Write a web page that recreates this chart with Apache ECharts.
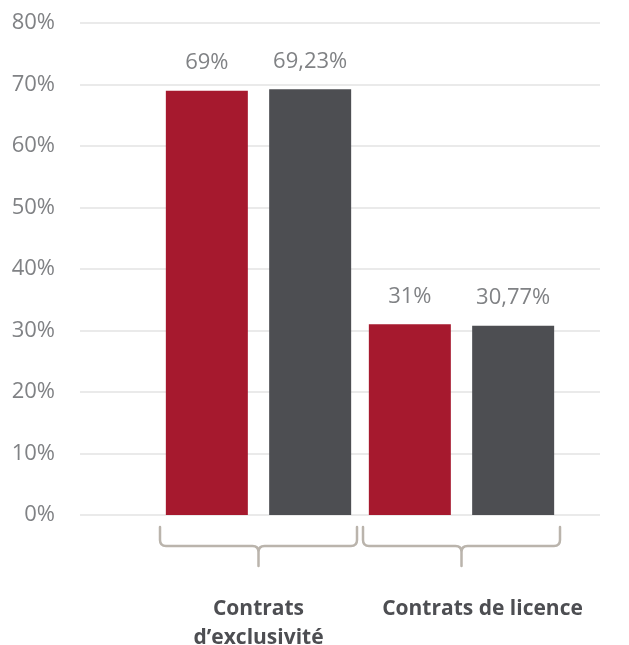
<!DOCTYPE html>
<html>
<head>
<meta charset="utf-8">
<script src="https://cdn.jsdelivr.net/npm/echarts@6/dist/echarts.min.js"></script>
<style>
    html, body { margin: 0; padding: 0; background: #fff; }
    #chart { width: 629px; height: 645px; }
</style>
</head>
<body>
<div id="chart"></div>
<script>
    // données
    var categories = ['Contrats\nd\u2019exclusivité', 'Contrats de licence'];
    var serieRouge = [69, 31];
    var serieGris = [69.23, 30.77];
    var yMin = 0, yMax = 80, yStep = 10;

    var fontFamily = '"Open Sans", "Noto Sans", sans-serif';

    function pct(p) {
        return String(p.value).replace('.', ',') + '%';
    }

    var labelStyle = {
        show: true,
        position: 'top',
        distance: 17,
        color: '#808285',
        fontSize: 22,
        fontFamily: fontFamily,
        formatter: pct
    };

    // accolades sous chaque catégorie
    function renderBrace(params, api) {
        var c = api.coord([api.value(0), 0]);
        var bw = api.size([1, 0])[0];
        var x0 = c[0] - bw / 2 + 3, x1 = c[0] + bw / 2 - 3, cx = c[0];
        var yTop = c[1] + 12, yMid = c[1] + 31, yTip = c[1] + 51;
        var path = 'M' + x0 + ',' + yTop +
            ' L' + x0 + ',' + (yMid - 6) +
            ' Q' + x0 + ',' + yMid + ' ' + (x0 + 6) + ',' + yMid +
            ' L' + (cx - 6) + ',' + yMid +
            ' Q' + cx + ',' + yMid + ' ' + cx + ',' + (yMid + 6) +
            ' L' + cx + ',' + yTip +
            ' M' + cx + ',' + (yMid + 6) +
            ' Q' + cx + ',' + yMid + ' ' + (cx + 6) + ',' + yMid +
            ' L' + (x1 - 6) + ',' + yMid +
            ' Q' + x1 + ',' + yMid + ' ' + x1 + ',' + (yMid - 6) +
            ' L' + x1 + ',' + yTop;
        return {
            type: 'path',
            shape: { pathData: path },
            style: { fill: 'none', stroke: '#BAB4AC', lineWidth: 2.5, lineCap: 'round' }
        };
    }

    var myChart = echarts.init(document.getElementById('chart'));
    myChart.setOption({
        animation: false,
        grid: [
            { left: 80, right: 29, top: 23, bottom: 130, outerBoundsMode: 'none' },
            { left: 157, right: 66, top: 23, bottom: 130, outerBoundsMode: 'none' }
        ],
        xAxis: [
            { gridIndex: 0, type: 'value', show: false, min: 0, max: 1 },
            {
                gridIndex: 1,
                type: 'category',
                data: categories,
                axisLine: { show: false },
                axisTick: { show: false },
                axisLabel: {
                    margin: 80,
                    interval: 0,
                    formatter: function (v, i) {
                        return i === 1 ? '{b|' + v + '}' : '{a|' + v + '}';
                    },
                    rich: {
                        a: { fontSize: 21, fontWeight: 'bold', color: '#4D4E52', fontFamily: fontFamily, lineHeight: 29 },
                        b: { fontSize: 21, fontWeight: 'bold', color: '#4D4E52', fontFamily: fontFamily, lineHeight: 29, padding: [0, 0, 0, 42] }
                    }
                }
            }
        ],
        yAxis: [
            {
                gridIndex: 0,
                type: 'value',
                min: yMin,
                max: yMax,
                interval: yStep,
                axisLine: { show: false },
                axisTick: { show: false },
                axisLabel: {
                    margin: 25,
                    color: '#808285',
                    fontSize: 22,
                    fontFamily: fontFamily,
                    formatter: '{value}%'
                },
                splitLine: { lineStyle: { color: '#E3E3E3', width: 1.5 } }
            },
            { gridIndex: 1, type: 'value', min: yMin, max: yMax, interval: yStep, show: false }
        ],
        series: [
            {
                type: 'bar',
                xAxisIndex: 1,
                yAxisIndex: 1,
                data: serieRouge,
                barWidth: 82,
                barGap: '26%',
                itemStyle: { color: '#A6192E' },
                label: labelStyle
            },
            {
                type: 'bar',
                xAxisIndex: 1,
                yAxisIndex: 1,
                data: serieGris,
                barWidth: 82,
                barGap: '26%',
                itemStyle: { color: '#4D4E52' },
                label: labelStyle
            },
            {
                type: 'custom',
                xAxisIndex: 1,
                yAxisIndex: 1,
                clip: false,
                silent: true,
                renderItem: renderBrace,
                encode: { x: 0, y: 1 },
                data: [[0, 0], [1, 0]]
            }
        ]
    });
    window.addEventListener('resize', function () {
        myChart.resize();
    });
</script>
</body>
</html>
